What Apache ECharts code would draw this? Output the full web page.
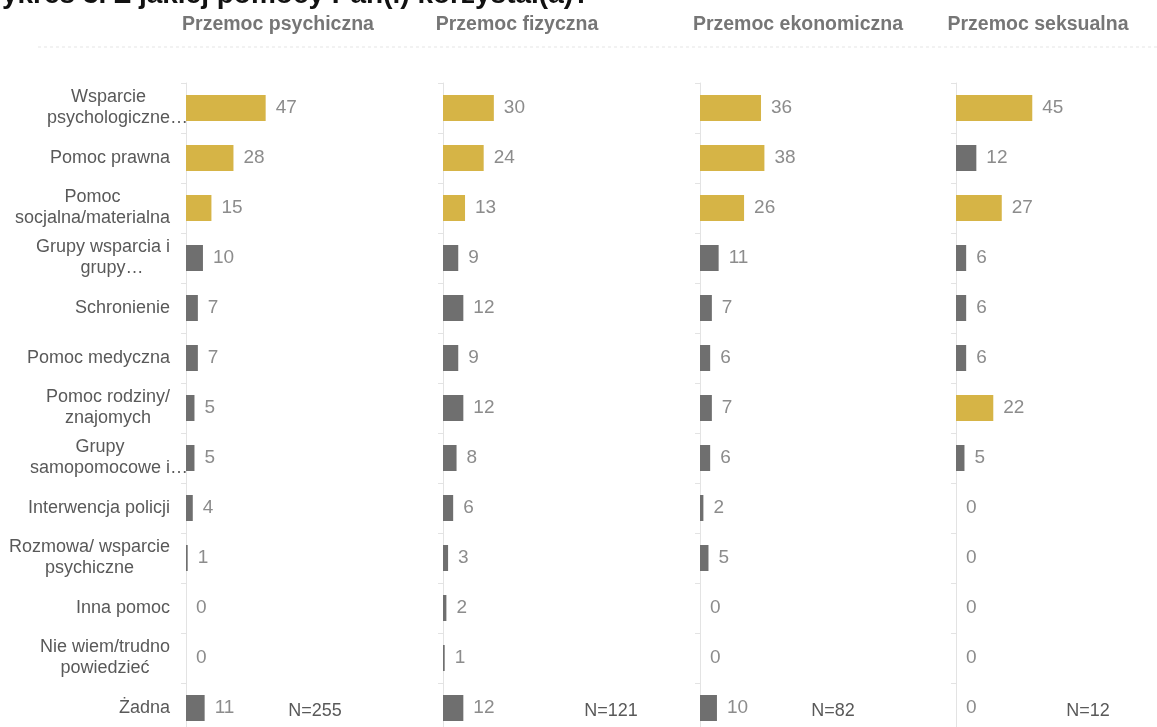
<!DOCTYPE html>
<html><head><meta charset="utf-8">
<script src="https://cdn.jsdelivr.net/npm/echarts@6/dist/echarts.min.js"></script>
<style>html,body{margin:0;padding:0;background:#fff;overflow:hidden}#c{width:1157px;height:745px}</style>
</head><body><div id="c"></div>
<script>
const categories = [
  "Wsparcie\npsychologiczne…",
  "Pomoc prawna",
  "Pomoc\nsocjalna/materialna",
  "Grupy wsparcia i\ngrupy…",
  "Schronienie",
  "Pomoc medyczna",
  "Pomoc rodziny/\nznajomych",
  "Grupy\nsamopomocowe i…",
  "Interwencja policji",
  "Rozmowa/ wsparcie\npsychiczne",
  "Inna pomoc",
  "Nie wiem/trudno\npowiedzieć",
  "Żadna"
];
const panelTitles = ["Przemoc psychiczna", "Przemoc fizyczna", "Przemoc ekonomiczna", "Przemoc seksualna"];
const sampleSizes = ["N=255", "N=121", "N=82", "N=12"];
const psychiczna = [47, 28, 15, 10, 7, 7, 5, 5, 4, 1, 0, 0, 11];
const fizyczna = [30, 24, 13, 9, 12, 9, 12, 8, 6, 3, 2, 1, 12];
const ekonomiczna = [36, 38, 26, 11, 7, 6, 7, 6, 2, 5, 0, 0, 10];
const seksualna = [45, 12, 27, 6, 6, 6, 22, 5, 0, 0, 0, 0, 0];
const titleText = "Wykres 3. Z jakiej pomocy Pan(i) korzystał(a)?";

const seriesData = [psychiczna, fizyczna, ekonomiczna, seksualna];
const GOLD = "#D6B446", GRAY = "#6F6F6F";
const lefts = [186, 443, 700, 956];
const headerX = [278, 517, 798, 1038];
const nX = [315, 611, 833, 1088];
const FONT = "Liberation Sans";
const CAT_SIZE = 18;
const CAT_COLOR = "#595959";

// Category labels: lines centred on each other, block right-aligned, trailing "…" allowed to overflow
const ctx = document.createElement("canvas").getContext("2d");
ctx.font = CAT_SIZE + "px '" + FONT + "'";
const E = Math.round(ctx.measureText("…").width);
const baseTok = { fontFamily: FONT, fontSize: CAT_SIZE, color: CAT_COLOR, lineHeight: 21, align: "center" };
const rich = {
  t: Object.assign({}, baseTok),
  s: Object.assign({ width: E }, baseTok),
  e: Object.assign({ width: E }, baseTok)
};
const catTokens = categories.map(c => c.split("\n").map(l => {
  if (/…$/.test(l)) return "{s|\u00a0}{t|" + l.replace(/…$/, "") + "}{e|…}";
  return "{s|\u00a0}{t|" + l + "}{s|\u00a0}";
}).join("\n"));
function catFormatter(value, index) { return catTokens[index]; }

function colored(arr) {
  const sorted = arr.slice().sort((a, b) => b - a);
  const thr = sorted[2];
  return arr.map(v => ({ value: v, itemStyle: { color: (v >= thr && v > 0) ? GOLD : GRAY } }));
}

const grids = [], xAxes = [], yAxes = [], series = [], graphics = [];
seriesData.forEach((d, i) => {
  grids.push({ left: lefts[i], top: 83, width: 150, height: 650, containLabel: false, outerBoundsMode: "none" });
  xAxes.push({ gridIndex: i, type: "value", min: 0, max: 88.5, show: false });
  yAxes.push({
    gridIndex: i, type: "category", data: categories, inverse: true,
    axisLine: { show: true, lineStyle: { color: "#E3E3E3", width: 1 } },
    axisTick: { show: true, length: 5, lineStyle: { color: "#E3E3E3" } },
    axisLabel: {
      show: i === 0, margin: 16 - E, fontFamily: FONT, fontSize: CAT_SIZE, color: CAT_COLOR,
      lineHeight: 21, align: "right", formatter: catFormatter, rich: rich
    },
    splitLine: { show: false }
  });
  series.push({
    type: "bar", xAxisIndex: i, yAxisIndex: i, data: colored(d), barWidth: 26,
    label: { show: true, position: "right", distance: 10, fontFamily: FONT, fontSize: 19, color: "#8C8C8C" },
    silent: true, animation: false
  });
  graphics.push({
    type: "text", x: headerX[i], y: 25, silent: true,
    style: { text: panelTitles[i], align: "center", verticalAlign: "middle", textAlign: "center", textVerticalAlign: "middle",
      font: "bold 19.5px '" + FONT + "'", fill: "#767676" }
  });
  graphics.push({
    type: "text", x: nX[i], y: 711, silent: true,
    style: { text: sampleSizes[i], align: "center", verticalAlign: "middle", textAlign: "center", textVerticalAlign: "middle",
      font: "18px '" + FONT + "'", fill: "#595959" }
  });
});
graphics.push({
  type: "line", shape: { x1: 38, y1: 47, x2: 1157, y2: 47 },
  style: { stroke: "#E6E6E6", lineWidth: 1, lineDash: [3, 3] }, silent: true
});

const chart = echarts.init(document.getElementById("c"), null, { renderer: "canvas" });
chart.setOption({
  animation: false,
  backgroundColor: "#fff",
  title: [{
    text: titleText, left: -29, top: -24,
    textStyle: { fontFamily: FONT, fontSize: 28, fontWeight: "bold", color: "#111" }
  }],
  grid: grids, xAxis: xAxes, yAxis: yAxes, series: series,
  graphic: graphics
});
</script></body></html>
